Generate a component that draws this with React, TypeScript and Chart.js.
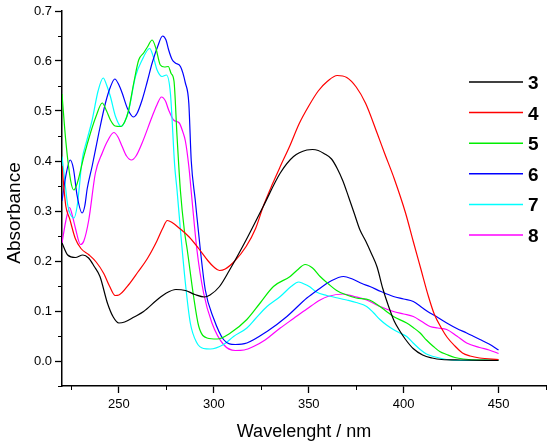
import { useEffect, useRef } from 'react';
import { Chart, registerables } from 'chart.js';

Chart.register(...registerables);

const FONT = '"Liberation Sans", Arial, sans-serif';

const seriesLabels = ['3', '4', '5', '6', '7', '8'];
const seriesColors = ['#000000', '#ff0000', '#00ee00', '#0000ff', '#00ffff', '#ff00ff'];

const wl3 = [220, 223, 227, 231, 234, 237, 240, 244, 247, 250, 253, 258, 263, 270, 275, 280, 285, 290, 295, 298, 303, 308, 317, 326, 335, 342, 349, 352, 355, 358, 362, 365, 368, 371, 374, 377, 380, 383, 386, 389, 392, 395, 398, 401, 405, 410, 415, 420, 430, 450];
const abs3 = [0.236, 0.212, 0.207, 0.212, 0.206, 0.189, 0.169, 0.115, 0.088, 0.076, 0.078, 0.088, 0.099, 0.122, 0.136, 0.143, 0.141, 0.133, 0.128, 0.132, 0.149, 0.18, 0.242, 0.309, 0.376, 0.409, 0.422, 0.423, 0.421, 0.415, 0.404, 0.385, 0.36, 0.328, 0.295, 0.262, 0.24, 0.215, 0.188, 0.145, 0.11, 0.08, 0.06, 0.043, 0.025, 0.012, 0.006, 0.003, 0.002, 0.001];

const wl4 = [220, 222, 224, 227, 230, 234, 238, 242, 245, 248, 250, 255, 260, 265, 270, 273, 275.5, 278, 282, 287, 292, 297, 300, 303, 306, 311, 317, 322, 326, 331, 335, 340, 345, 350, 355, 360, 365, 370, 375, 380, 386, 390, 395, 401, 405, 409, 413, 416, 420, 423, 427, 431, 435, 440, 450];
const abs4 = [0.39, 0.31, 0.285, 0.245, 0.225, 0.213, 0.198, 0.175, 0.15, 0.131, 0.132, 0.152, 0.178, 0.205, 0.24, 0.265, 0.281, 0.277, 0.265, 0.248, 0.225, 0.2, 0.188, 0.181, 0.184, 0.2, 0.229, 0.265, 0.309, 0.355, 0.389, 0.43, 0.475, 0.51, 0.54, 0.56, 0.571, 0.567, 0.548, 0.515, 0.456, 0.415, 0.365, 0.296, 0.24, 0.185, 0.13, 0.095, 0.065, 0.047, 0.03, 0.016, 0.01, 0.006, 0.003];

const wl5 = [220, 222, 224.5, 226.2, 228, 231.5, 235, 238, 241.2, 243.5, 245.5, 248, 250.8, 253, 255, 257.8, 260.4, 263, 265, 267.5, 269.5, 271.8, 274, 276, 277.5, 279, 280.6, 282.4, 284.5, 286, 289.3, 292, 296.4, 301.7, 308.7, 317.4, 324.4, 331.4, 340.2, 344, 348.1, 352, 356, 360.4, 364.7, 370, 375, 382, 387.5, 391, 394.6, 401.6, 405, 408.7, 412, 415.7, 419, 422.7, 427, 431.4, 440, 450];
const abs5 = [0.534, 0.44, 0.362, 0.342, 0.355, 0.409, 0.456, 0.49, 0.516, 0.5, 0.482, 0.47, 0.469, 0.478, 0.5, 0.556, 0.602, 0.616, 0.628, 0.642, 0.625, 0.592, 0.588, 0.589, 0.575, 0.56, 0.45, 0.34, 0.26, 0.222, 0.13, 0.07, 0.046, 0.044, 0.056, 0.083, 0.116, 0.149, 0.169, 0.182, 0.193, 0.186, 0.169, 0.154, 0.141, 0.132, 0.126, 0.122, 0.109, 0.099, 0.089, 0.076, 0.067, 0.056, 0.042, 0.029, 0.019, 0.013, 0.007, 0.004, 0.002, 0.002];

const wl6 = [220, 222, 224.3, 226, 228, 230.6, 232, 233.3, 235.9, 239.4, 242.9, 245.5, 247.8, 250, 251.7, 254.5, 257.6, 259.5, 262.2, 265, 267.5, 270.5, 273, 274.8, 276.2, 278, 279.7, 282.4, 285, 286.8, 288.1, 290.2, 292.9, 295.5, 299.9, 305.1, 311.3, 317.4, 328, 338.5, 349, 355, 361.2, 368.3, 373, 378, 382.2, 388, 394.6, 400, 405.1, 410, 413.9, 418, 422.7, 428, 433.2, 437, 440.2, 445, 450];
const abs6 = [0.32, 0.37, 0.402, 0.385, 0.33, 0.296, 0.31, 0.345, 0.39, 0.456, 0.516, 0.548, 0.564, 0.552, 0.536, 0.505, 0.488, 0.495, 0.522, 0.56, 0.596, 0.63, 0.65, 0.642, 0.622, 0.603, 0.596, 0.589, 0.556, 0.516, 0.4, 0.322, 0.222, 0.142, 0.085, 0.043, 0.033, 0.036, 0.059, 0.089, 0.126, 0.143, 0.159, 0.169, 0.164, 0.155, 0.149, 0.139, 0.129, 0.124, 0.119, 0.106, 0.096, 0.087, 0.076, 0.065, 0.056, 0.049, 0.043, 0.034, 0.022];

const wl7 = [220, 221.5, 223, 226.3, 228, 228.8, 230.6, 233, 235.9, 239, 241.7, 243.5, 245.5, 248.2, 251.2, 253, 255.2, 258.7, 262.2, 266.2, 268, 270.1, 272.7, 275, 277.1, 279.4, 280.6, 282.4, 285, 287.6, 291.1, 294.6, 298.1, 305.1, 310.4, 317.4, 322, 328, 335, 341, 344.6, 347, 350.7, 354, 359.5, 363, 370, 375, 380.5, 384, 387.5, 391, 394.6, 398, 401.6, 405, 408.7, 412, 415.7, 422.7, 430, 450];
const abs7 = [0.409, 0.36, 0.312, 0.286, 0.31, 0.336, 0.402, 0.44, 0.482, 0.54, 0.566, 0.552, 0.529, 0.489, 0.469, 0.478, 0.502, 0.569, 0.602, 0.625, 0.61, 0.582, 0.569, 0.572, 0.536, 0.389, 0.342, 0.262, 0.156, 0.076, 0.036, 0.025, 0.024, 0.033, 0.049, 0.066, 0.085, 0.109, 0.129, 0.15, 0.158, 0.155, 0.148, 0.138, 0.131, 0.128, 0.122, 0.117, 0.109, 0.097, 0.083, 0.072, 0.063, 0.056, 0.049, 0.036, 0.023, 0.014, 0.009, 0.003, 0.001, 0.002];

const wl8 = [220, 222, 224, 225.5, 227.1, 229.7, 231.5, 234.1, 237.6, 241.2, 244, 247.3, 249.5, 251.7, 254, 256.6, 259, 262.2, 267.5, 270, 272.4, 274.5, 276.2, 278.8, 281.8, 283.5, 285, 286.8, 288.5, 291.1, 294.6, 299, 305.1, 311.3, 316, 320.9, 327, 335, 342, 349, 356, 360, 368.3, 374, 380.5, 387, 394.6, 400, 405.1, 410, 413.9, 418, 422.7, 428, 433.2, 440, 445, 450];
const abs8 = [0.236, 0.28, 0.307, 0.29, 0.265, 0.233, 0.24, 0.282, 0.376, 0.416, 0.44, 0.457, 0.448, 0.429, 0.41, 0.402, 0.41, 0.436, 0.489, 0.512, 0.528, 0.52, 0.502, 0.482, 0.476, 0.46, 0.44, 0.39, 0.322, 0.222, 0.136, 0.076, 0.033, 0.021, 0.022, 0.029, 0.042, 0.066, 0.085, 0.104, 0.122, 0.129, 0.134, 0.129, 0.122, 0.11, 0.099, 0.094, 0.089, 0.078, 0.069, 0.066, 0.063, 0.05, 0.036, 0.027, 0.022, 0.015];

const wavelengths = [wl3, wl4, wl5, wl6, wl7, wl8];
const absorbances = [abs3, abs4, abs5, abs6, abs7, abs8];

const xTitle = 'Wavelenght / nm';
const yTitle = 'Absorbance';

const isMajorX = (v: number) => Math.abs(v % 50) < 1e-6;
const isMajorY = (v: number) => Math.round(v * 20) % 2 === 0;

const decorPlugin = {
  id: 'decor',
  afterDraw(chart: any) {
    const ctx = chart.ctx as CanvasRenderingContext2D;
    const xs = chart.scales.x;
    const ys = chart.scales.y;
    ctx.save();
    ctx.strokeStyle = '#000';
    ctx.lineWidth = 1;
    xs.ticks.forEach((t: any) => {
      if (!isMajorX(t.value)) {
        const px = Math.round(xs.getPixelForValue(t.value)) + 0.5;
        ctx.beginPath();
        ctx.moveTo(px, xs.top);
        ctx.lineTo(px, xs.top + 4);
        ctx.stroke();
      }
    });
    ys.ticks.forEach((t: any) => {
      if (!isMajorY(t.value)) {
        const py = Math.round(ys.getPixelForValue(t.value)) + 0.5;
        ctx.beginPath();
        ctx.moveTo(ys.right, py);
        ctx.lineTo(ys.right - 4, py);
        ctx.stroke();
      }
    });

    // axis titles
    ctx.fillStyle = '#000';
    ctx.textAlign = 'center';
    ctx.textBaseline = 'alphabetic';
    ctx.font = `18px ${FONT}`;
    ctx.fillText(xTitle, (chart.chartArea.left + chart.chartArea.right) / 2, 437);
    ctx.save();
    ctx.translate(20, 213);
    ctx.rotate(-Math.PI / 2);
    ctx.font = `19px ${FONT}`;
    ctx.fillText(yTitle, 0, 0);
    ctx.restore();

    // legend
    chart.data.datasets.forEach((ds: any, i: number) => {
      const y = 82 + i * 30.6;
      ctx.strokeStyle = ds.borderColor;
      ctx.lineWidth = 1.5;
      ctx.beginPath();
      ctx.moveTo(469, y);
      ctx.lineTo(523, y);
      ctx.stroke();
      ctx.fillStyle = '#000';
      ctx.font = `bold 19px ${FONT}`;
      ctx.textAlign = 'left';
      ctx.textBaseline = 'alphabetic';
      ctx.fillText(ds.label, 528, y + 7);
    });
    ctx.restore();
  },
};

export default function App() {
  const ref = useRef<HTMLCanvasElement>(null);
  useEffect(() => {
    if (!ref.current) return;
    const chart = new Chart(ref.current, {
      type: 'line',
      data: {
        datasets: seriesLabels.map((label, i) => ({
          label,
          data: wavelengths[i].map((x, j) => ({ x, y: absorbances[i][j] })),
          borderColor: seriesColors[i],
          backgroundColor: seriesColors[i],
          borderWidth: 1.2,
          pointRadius: 0,
          cubicInterpolationMode: 'monotone' as const,
          fill: false,
        })),
      },
      options: {
        animation: false,
        responsive: false,
        devicePixelRatio: 1,
        layout: { padding: { left: 0, top: 11, right: 3, bottom: 0 } },
        plugins: {
          legend: { display: false },
          tooltip: { enabled: false },
          title: { display: false },
        },
        scales: {
          x: {
            type: 'linear',
            min: 220,
            max: 475,
            afterFit: (s: any) => { s.height = 61; },
            ticks: {
              stepSize: 25,
              includeBounds: false,
              autoSkip: false,
              maxRotation: 0,
              padding: 4,
              color: '#000',
              font: { family: FONT, size: 13 },
              callback: (v: any) => (isMajorX(Number(v)) ? String(v) : ''),
            },
            grid: {
              display: true,
              drawOnChartArea: false,
              drawTicks: true,
              tickLength: 7,
              tickWidth: 1.3,
              tickColor: (c: any) => (c.tick && isMajorX(c.tick.value) ? '#000' : 'rgba(0,0,0,0)'),
            },
            border: { display: true, color: '#000', width: 1.5 },
          },
          y: {
            type: 'linear',
            min: -0.05,
            max: 0.7,
            afterFit: (s: any) => { s.width = 62; },
            ticks: {
              stepSize: 0.05,
              autoSkip: false,
              padding: 3,
              color: '#000',
              font: { family: FONT, size: 13 },
              callback: (v: any) => {
                const n = Math.round(Number(v) * 20);
                return n % 2 === 0 ? (n / 20).toFixed(1) : '';
              },
            },
            grid: {
              display: true,
              drawOnChartArea: false,
              drawTicks: true,
              tickLength: 7,
              tickWidth: 1.3,
              tickColor: (c: any) => (c.tick && isMajorY(c.tick.value) ? '#000' : 'rgba(0,0,0,0)'),
            },
            border: { display: true, color: '#000', width: 1.5 },
          },
        },
      },
      plugins: [decorPlugin],
    });
    return () => chart.destroy();
  }, []);
  return (
    <div style={{ position: 'absolute', left: 0, top: 0, width: 550, height: 447, background: '#fff' }}>
      <canvas ref={ref} width={550} height={447} style={{ display: 'block' }} />
    </div>
  );
}
